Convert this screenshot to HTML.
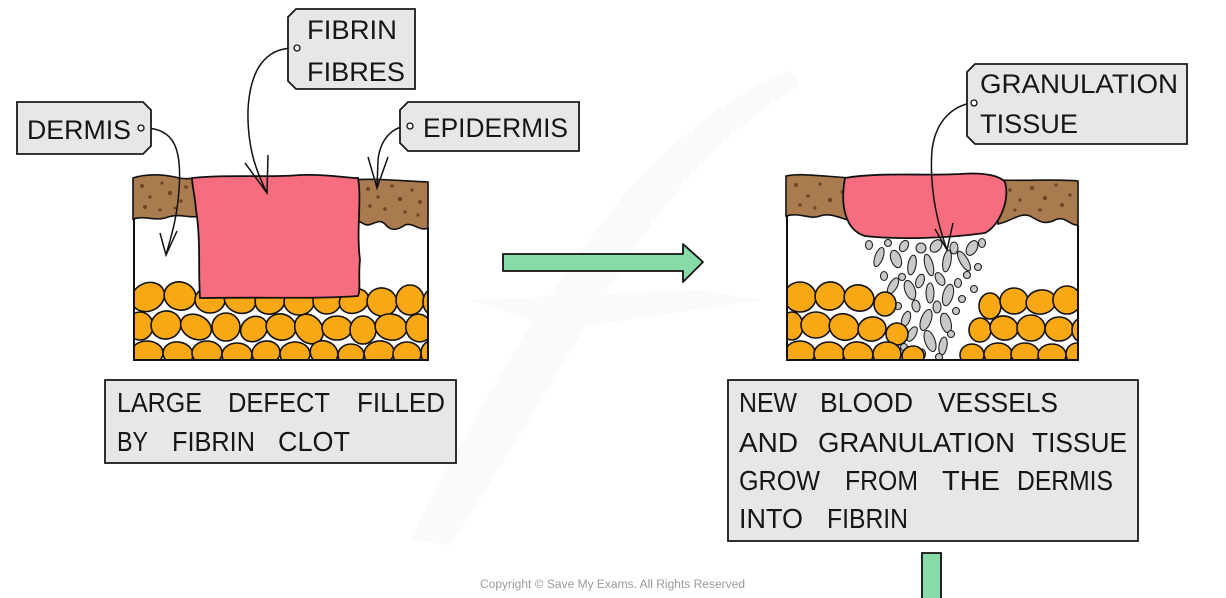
<!DOCTYPE html>
<html><head><meta charset="utf-8"><style>
html,body{margin:0;padding:0;background:#fff;}
svg{display:block;}
text{font-family:"Liberation Sans",sans-serif;fill:#161616;}
</style></head><body>
<svg width="1226" height="598" viewBox="0 0 1226 598" xmlns="http://www.w3.org/2000/svg">
<defs>
<clipPath id="cl"><rect x="134" y="170" width="294" height="190"/></clipPath>
<clipPath id="cr"><rect x="787" y="170" width="291" height="190"/></clipPath>
</defs>
<!-- watermark (very faint) -->
<g fill="#f9fafc">
<path d="M410,540 C470,420 540,300 620,200 C680,130 740,90 790,70 L800,85 C740,120 690,170 640,240 C580,330 520,440 450,545 Z"/>
<path d="M470,300 L700,290 L760,300 L560,330 Z"/>
</g>

<!-- LEFT DIAGRAM -->
<rect x="134" y="176" width="294" height="184" fill="#fff"/>
<g clip-path="url(#cl)" fill="#f9a815" stroke="#111" stroke-width="1.6">
<ellipse cx="148" cy="297" rx="17" ry="14" transform="rotate(-25 148 297)"/>
<ellipse cx="180" cy="296" rx="16" ry="14" transform="rotate(15 180 296)"/>
<ellipse cx="210" cy="300" rx="15" ry="13"/>
<ellipse cx="240" cy="300" rx="16" ry="13" transform="rotate(20 240 300)"/>
<ellipse cx="270" cy="301" rx="15" ry="13" transform="rotate(-15 270 301)"/>
<ellipse cx="299" cy="302" rx="15" ry="13"/>
<ellipse cx="327" cy="301" rx="14" ry="13"/>
<ellipse cx="354" cy="301" rx="15" ry="12" transform="rotate(-20 354 301)"/>
<ellipse cx="382" cy="302" rx="15" ry="14" transform="rotate(15 382 302)"/>
<ellipse cx="410" cy="300" rx="14" ry="15"/>
<ellipse cx="433" cy="302" rx="10" ry="13"/>
<ellipse cx="140" cy="326" rx="13" ry="14"/>
<ellipse cx="166" cy="325" rx="15" ry="14" transform="rotate(-15 166 325)"/>
<ellipse cx="196" cy="327" rx="16" ry="12" transform="rotate(25 196 327)"/>
<ellipse cx="226" cy="327" rx="14" ry="14"/>
<ellipse cx="254" cy="329" rx="14" ry="12" transform="rotate(-35 254 329)"/>
<ellipse cx="281" cy="327" rx="15" ry="13" transform="rotate(15 281 327)"/>
<ellipse cx="309" cy="329" rx="13" ry="16" transform="rotate(-40 309 329)"/>
<ellipse cx="337" cy="328" rx="15" ry="12"/>
<ellipse cx="363" cy="330" rx="13" ry="14"/>
<ellipse cx="391" cy="327" rx="16" ry="13" transform="rotate(10 391 327)"/>
<ellipse cx="419" cy="328" rx="13" ry="14" transform="rotate(-25 419 328)"/>
<ellipse cx="147" cy="353" rx="16" ry="12"/>
<ellipse cx="178" cy="354" rx="15" ry="12" transform="rotate(10 178 354)"/>
<ellipse cx="207" cy="353" rx="15" ry="12"/>
<ellipse cx="237" cy="355" rx="15" ry="12"/>
<ellipse cx="266" cy="353" rx="14" ry="12" transform="rotate(-10 266 353)"/>
<ellipse cx="295" cy="354" rx="15" ry="12"/>
<ellipse cx="324" cy="353" rx="14" ry="12" transform="rotate(20 324 353)"/>
<ellipse cx="351" cy="355" rx="13" ry="11"/>
<ellipse cx="379" cy="353" rx="15" ry="12" transform="rotate(-10 379 353)"/>
<ellipse cx="407" cy="354" rx="14" ry="12"/>
<ellipse cx="431" cy="353" rx="10" ry="12"/>
</g>
<!-- brown epidermis -->
<g fill="#a97b4f" stroke="#111" stroke-width="1.6">
<path d="M133,178 C145,174 160,174 175,177 C185,180 192,178 200,178 L200,216 C190,219 180,213 168,217 C156,222 145,215 133,219 Z"/>
<path d="M352,180 C378,178 402,181 428,182 L428,228 C420,232 413,222 405,225 C398,230 391,232 385,224 C378,217 371,228 364,224 C358,220 355,222 352,222 Z"/>
</g>
<g fill="#6b4424">
<circle cx="142" cy="186" r="2"/><circle cx="150" cy="197" r="1.6"/><circle cx="162" cy="183" r="1.6"/><circle cx="170" cy="193" r="2.2"/><circle cx="181" cy="201" r="1.8"/><circle cx="145" cy="207" r="2"/><circle cx="160" cy="210" r="1.6"/><circle cx="186" cy="187" r="1.8"/><circle cx="175" cy="208" r="1.5"/>
<circle cx="368" cy="189" r="2"/><circle cx="378" cy="197" r="1.6"/><circle cx="392" cy="186" r="1.8"/><circle cx="400" cy="199" r="2.2"/><circle cx="412" cy="190" r="1.6"/><circle cx="420" cy="202" r="2"/><circle cx="385" cy="209" r="1.8"/><circle cx="405" cy="212" r="1.6"/><circle cx="370" cy="206" r="1.8"/><circle cx="418" cy="215" r="1.6"/>
</g>
<!-- pink clot -->
<path d="M192,178 C230,174 270,178 300,175 C330,174 345,178 358,178 C362,200 356,230 360,260 C358,275 361,290 358,296 C320,299 260,297 200,298 C198,270 201,240 196,210 C195,195 192,186 192,178 Z" fill="#f66d80" stroke="#111" stroke-width="1.8"/>
<path d="M134,219 V360 H428 V228" fill="none" stroke="#111" stroke-width="2"/>

<!-- RIGHT DIAGRAM -->
<rect x="787" y="176" width="291" height="184" fill="#fff"/>
<g fill="#c9c9c9" stroke="#222" stroke-width="1.1">
<ellipse cx="869" cy="245" rx="3.5" ry="4.5"/>
<ellipse cx="879" cy="257" rx="4" ry="10" transform="rotate(20 879 257)"/>
<ellipse cx="888" cy="243" rx="3.5" ry="3.5"/>
<ellipse cx="896" cy="259" rx="5" ry="9" transform="rotate(-20 896 259)"/>
<ellipse cx="904" cy="246" rx="4" ry="6" transform="rotate(30 904 246)"/>
<ellipse cx="912" cy="265" rx="4" ry="10" transform="rotate(10 912 265)"/>
<ellipse cx="921" cy="248" rx="5" ry="5"/>
<ellipse cx="929" cy="265" rx="4" ry="11" transform="rotate(-15 929 265)"/>
<ellipse cx="936" cy="246" rx="5" ry="7" transform="rotate(40 936 246)"/>
<ellipse cx="947" cy="261" rx="4" ry="11" transform="rotate(10 947 261)"/>
<ellipse cx="954" cy="248" rx="4" ry="6"/>
<ellipse cx="964" cy="261" rx="4" ry="11" transform="rotate(-30 964 261)"/>
<ellipse cx="972" cy="248" rx="5" ry="8" transform="rotate(30 972 248)"/>
<ellipse cx="982" cy="243" rx="3.5" ry="4.5"/>
<ellipse cx="978" cy="267" rx="3.5" ry="3.5"/>
<ellipse cx="884" cy="276" rx="3.5" ry="4.5"/>
<ellipse cx="893" cy="286" rx="4" ry="9" transform="rotate(30 893 286)"/>
<ellipse cx="902" cy="277" rx="3.5" ry="3.5"/>
<ellipse cx="910" cy="290" rx="5" ry="10" transform="rotate(-20 910 290)"/>
<ellipse cx="920" cy="281" rx="4" ry="7" transform="rotate(20 920 281)"/>
<ellipse cx="930" cy="293" rx="4" ry="10"/>
<ellipse cx="940" cy="279" rx="4" ry="7" transform="rotate(-30 940 279)"/>
<ellipse cx="948" cy="295" rx="5" ry="11" transform="rotate(15 948 295)"/>
<ellipse cx="958" cy="283" rx="3.5" ry="4.5"/>
<ellipse cx="967" cy="275" rx="3.5" ry="3.5"/>
<ellipse cx="974" cy="289" rx="3.5" ry="3.5"/>
<ellipse cx="962" cy="299" rx="3.5" ry="3.5"/>
<ellipse cx="898" cy="306" rx="3.5" ry="3.5"/>
<ellipse cx="906" cy="319" rx="4" ry="8" transform="rotate(20 906 319)"/>
<ellipse cx="916" cy="306" rx="4" ry="6" transform="rotate(-10 916 306)"/>
<ellipse cx="926" cy="320" rx="5" ry="11" transform="rotate(20 926 320)"/>
<ellipse cx="937" cy="307" rx="4" ry="6"/>
<ellipse cx="946" cy="323" rx="5" ry="10" transform="rotate(-15 946 323)"/>
<ellipse cx="956" cy="311" rx="3.5" ry="3.5"/>
<ellipse cx="912" cy="334" rx="4" ry="8" transform="rotate(30 912 334)"/>
<ellipse cx="930" cy="341" rx="5" ry="11" transform="rotate(-20 930 341)"/>
<ellipse cx="943" cy="346" rx="4" ry="9" transform="rotate(10 943 346)"/>
<ellipse cx="951" cy="334" rx="3.5" ry="3.5"/>
<ellipse cx="922" cy="354" rx="3.5" ry="5"/>
<ellipse cx="939" cy="357" rx="3.5" ry="3.5"/>
<ellipse cx="904" cy="347" rx="3.5" ry="3.5"/>
</g>
<g clip-path="url(#cr)" fill="#f9a815" stroke="#111" stroke-width="1.6">
<ellipse cx="800" cy="297" rx="16" ry="15"/>
<ellipse cx="830" cy="296" rx="15" ry="14" transform="rotate(-15 830 296)"/>
<ellipse cx="859" cy="298" rx="15" ry="13" transform="rotate(15 859 298)"/>
<ellipse cx="885" cy="304" rx="11" ry="12"/>
<ellipse cx="792" cy="326" rx="11" ry="14"/>
<ellipse cx="816" cy="325" rx="15" ry="13"/>
<ellipse cx="844" cy="327" rx="15" ry="13" transform="rotate(20 844 327)"/>
<ellipse cx="872" cy="329" rx="14" ry="12" transform="rotate(-10 872 329)"/>
<ellipse cx="897" cy="334" rx="11" ry="11"/>
<ellipse cx="800" cy="353" rx="15" ry="12"/>
<ellipse cx="829" cy="354" rx="15" ry="12"/>
<ellipse cx="858" cy="354" rx="15" ry="12" transform="rotate(10 858 354)"/>
<ellipse cx="887" cy="354" rx="14" ry="12"/>
<ellipse cx="913" cy="356" rx="11" ry="10"/>
<ellipse cx="990" cy="306" rx="11" ry="13"/>
<ellipse cx="1014" cy="301" rx="14" ry="13"/>
<ellipse cx="1041" cy="302" rx="15" ry="12" transform="rotate(-10 1041 302)"/>
<ellipse cx="1067" cy="300" rx="14" ry="14"/>
<ellipse cx="980" cy="330" rx="11" ry="12"/>
<ellipse cx="1004" cy="328" rx="14" ry="12" transform="rotate(10 1004 328)"/>
<ellipse cx="1031" cy="328" rx="14" ry="13"/>
<ellipse cx="1059" cy="329" rx="14" ry="12"/>
<ellipse cx="1082" cy="330" rx="10" ry="12"/>
<ellipse cx="972" cy="355" rx="12" ry="11"/>
<ellipse cx="998" cy="354" rx="14" ry="11"/>
<ellipse cx="1025" cy="354" rx="14" ry="11"/>
<ellipse cx="1052" cy="355" rx="14" ry="11"/>
<ellipse cx="1077" cy="354" rx="11" ry="11"/>
</g>
<g fill="#a97b4f" stroke="#111" stroke-width="1.6">
<path d="M786,176 C800,173 820,176 852,178 L852,221 C842,219 830,212 820,216 C810,220 800,212 786,216 Z"/>
<path d="M998,180 C1030,181 1055,179 1078,181 L1078,225 C1070,226 1065,215 1055,220 C1045,225 1040,222 1030,216 C1020,212 1010,222 998,224 Z"/>
</g>
<g fill="#6b4424">
<circle cx="796" cy="185" r="2"/><circle cx="808" cy="196" r="1.8"/><circle cx="820" cy="184" r="1.6"/><circle cx="830" cy="200" r="2.2"/><circle cx="842" cy="192" r="1.6"/><circle cx="800" cy="205" r="1.8"/><circle cx="815" cy="208" r="1.6"/>
<circle cx="1010" cy="190" r="1.8"/><circle cx="1020" cy="200" r="1.6"/><circle cx="1032" cy="188" r="2"/><circle cx="1045" cy="198" r="2.2"/><circle cx="1056" cy="185" r="1.6"/><circle cx="1062" cy="205" r="2"/><circle cx="1070" cy="195" r="1.6"/><circle cx="1040" cy="210" r="1.8"/><circle cx="1015" cy="210" r="1.6"/>
</g>
<path d="M845,178 C880,172 920,176 960,174 C985,172 1000,176 1005,182 C1010,200 1000,225 985,233 C950,238 900,240 865,236 C845,230 840,205 845,178 Z" fill="#f66d80" stroke="#111" stroke-width="1.8"/>
<path d="M787,216 V360 H1078 V225" fill="none" stroke="#111" stroke-width="2"/>

<!-- pointers -->
<g fill="none" stroke="#111" stroke-width="1.5">
<path d="M144,128 C175,128 182,150 179,190 C177,220 170,240 166,255"/>
<path d="M160,233 L166,255 L177,231"/>
<path d="M294,48 C265,48 250,70 248,110 C247,150 258,175 267,193"/>
<path d="M245,163 L267,193 L268,155"/>
<path d="M407,126 C392,127 380,140 378,160 L377,188"/>
<path d="M368,157 L377,188 L388,157"/>
<path d="M971,103 C955,106 936,118 932,150 C929,190 938,225 947,250"/>
<path d="M935,229 L947,250 L953,223"/>
</g>

<!-- tags -->
<g fill="#e6e7e8" stroke="#1a1a1a" stroke-width="1.8">
<path d="M17,102 H143 L151,110 V146 L143,154 H17 Z"/>
<path d="M296,9 H415 V89 H296 L288,81 V17 Z"/>
<path d="M408,102 H579 V151 H408 L400,143 V110 Z"/>
<path d="M975,64 H1187 V144 H975 L967,136 V72 Z"/>
<rect x="105" y="380" width="351" height="83"/>
<rect x="728" y="380" width="410" height="161"/>
</g>
<g fill="#fff" stroke="#111" stroke-width="1.3">
<circle cx="141" cy="128" r="3"/>
<circle cx="297" cy="48" r="3"/>
<circle cx="410" cy="126" r="3"/>
<circle cx="974" cy="103" r="3"/>
</g>

<!-- label texts -->
<g font-size="27">
<text x="27" y="139" textLength="104" lengthAdjust="spacingAndGlyphs">DERMIS</text>
<text x="307" y="39" textLength="90" lengthAdjust="spacingAndGlyphs">FIBRIN</text>
<text x="307" y="81" textLength="98" lengthAdjust="spacingAndGlyphs">FIBRES</text>
<text x="423" y="137" textLength="145" lengthAdjust="spacingAndGlyphs">EPIDERMIS</text>
<text x="980" y="93" textLength="198" lengthAdjust="spacingAndGlyphs">GRANULATION</text>
<text x="980" y="133" textLength="98" lengthAdjust="spacingAndGlyphs">TISSUE</text>
</g>
<g font-size="28">
<text x="117" y="412" textLength="85" lengthAdjust="spacingAndGlyphs">LARGE</text>
<text x="228" y="412" textLength="102" lengthAdjust="spacingAndGlyphs">DEFECT</text>
<text x="357" y="412" textLength="88" lengthAdjust="spacingAndGlyphs">FILLED</text>
<text x="117" y="451" textLength="31" lengthAdjust="spacingAndGlyphs">BY</text>
<text x="172" y="451" textLength="83" lengthAdjust="spacingAndGlyphs">FIBRIN</text>
<text x="278" y="451" textLength="72" lengthAdjust="spacingAndGlyphs">CLOT</text>

<text x="739" y="412" textLength="58" lengthAdjust="spacingAndGlyphs">NEW</text>
<text x="820" y="412" textLength="93" lengthAdjust="spacingAndGlyphs">BLOOD</text>
<text x="938" y="412" textLength="120" lengthAdjust="spacingAndGlyphs">VESSELS</text>
<text x="739" y="452" textLength="59" lengthAdjust="spacingAndGlyphs">AND</text>
<text x="818" y="452" textLength="197" lengthAdjust="spacingAndGlyphs">GRANULATION</text>
<text x="1032" y="452" textLength="95" lengthAdjust="spacingAndGlyphs">TISSUE</text>
<text x="739" y="490" textLength="81" lengthAdjust="spacingAndGlyphs">GROW</text>
<text x="845" y="490" textLength="73" lengthAdjust="spacingAndGlyphs">FROM</text>
<text x="942" y="490" textLength="58" lengthAdjust="spacingAndGlyphs">THE</text>
<text x="1017" y="490" textLength="96" lengthAdjust="spacingAndGlyphs">DERMIS</text>
<text x="739" y="528" textLength="64" lengthAdjust="spacingAndGlyphs">INTO</text>
<text x="827" y="528" textLength="81" lengthAdjust="spacingAndGlyphs">FIBRIN</text>
</g>

<!-- arrows -->
<path d="M503,254 H683 V244 L703,262 L683,282 V271 H503 Z" fill="#86dba8" stroke="#111" stroke-width="1.8" stroke-linejoin="round"/>
<path d="M922,553 H941 V602 H922 Z" fill="#86dba8" stroke="#111" stroke-width="1.8"/>

<text x="480" y="588" font-size="11.5" textLength="265" lengthAdjust="spacingAndGlyphs" style="fill:#9a9a9a">Copyright © Save My Exams. All Rights Reserved</text>
</svg>
</body></html>
